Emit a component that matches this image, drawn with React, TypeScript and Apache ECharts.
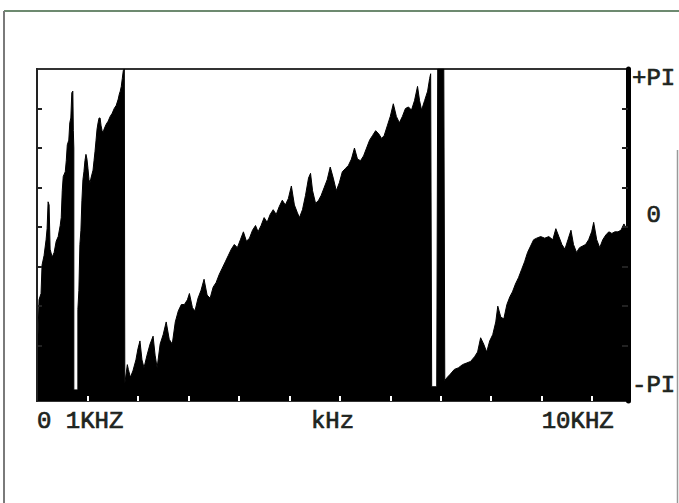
import React, { useEffect, useRef } from "react";
import * as echarts from "echarts";

// Frequency axis (kHz) and phase axis (units of PI)
const xTickKHz = [1, 2, 3, 4, 5, 6, 7, 8, 9, 10, 11];
const xLabelKHz = [0, 10];
const xLabelText = ["0 1KHZ", "10KHZ"];
const xName = "kHz";
const yTickPi = [-0.75, -0.5, -0.25, 0, 0.25, 0.5, 0.75];
const yLabelPi = [1, 0, -1];
const yLabelText = ["+PI", "\u00a00", "-PI"];

// wrapped phase response, [kHz, phase / PI]
const segA: [number, number][] = [
  [0, -0.69], [0.02, -0.68], [0.04, -0.46], [0.08, -0.42], [0.1, -0.24], [0.14, -0.18],
  [0.18, -0.08], [0.2, -0.01], [0.22, 0.16], [0.24, 0.14], [0.26, -0.14], [0.3, -0.19],
  [0.34, -0.16], [0.38, -0.09], [0.42, -0.06], [0.46, 0.01], [0.48, 0.06], [0.5, 0.23],
  [0.52, 0.32], [0.56, 0.35], [0.58, 0.42], [0.6, 0.52], [0.63, 0.55], [0.65, 0.66],
  [0.67, 0.69], [0.69, 0.85], [0.71, 0.86], [0.72, 0.61], [0.73, 0.5], [0.73, -1.03], [0.81, -1.03],
];
const segB: [number, number][] = [
  [0.81, -0.52], [0.83, -0.4], [0.85, -0.11], [0.87, -0.02], [0.89, 0.17], [0.91, 0.3],
  [0.93, 0.35], [0.95, 0.42], [0.97, 0.46], [0.99, 0.43], [1.01, 0.37], [1.03, 0.3],
  [1.05, 0.28], [1.07, 0.31], [1.11, 0.36], [1.13, 0.42], [1.15, 0.48], [1.17, 0.55],
  [1.19, 0.62], [1.21, 0.66], [1.23, 0.69], [1.25, 0.69], [1.27, 0.64], [1.29, 0.61],
  [1.31, 0.6], [1.33, 0.62], [1.37, 0.65], [1.41, 0.67], [1.45, 0.7], [1.49, 0.72],
  [1.53, 0.75], [1.57, 0.77], [1.61, 0.81], [1.63, 0.84], [1.65, 0.86], [1.67, 0.89],
  [1.69, 0.94], [1.71, 0.99], [1.73, 1.0], [1.74, -0.99],
];
const segC: [number, number][] = [
  [1.75, -0.99], [1.79, -0.87], [1.81, -0.9], [1.85, -0.95], [1.9, -0.91], [1.96, -0.84],
  [2.0, -0.77], [2.04, -0.72], [2.08, -0.84], [2.12, -0.89], [2.18, -0.81], [2.24, -0.74],
  [2.3, -0.69], [2.34, -0.81], [2.38, -0.89], [2.44, -0.74], [2.5, -0.68], [2.56, -0.6],
  [2.62, -0.71], [2.68, -0.74], [2.74, -0.6], [2.8, -0.53], [2.86, -0.49], [2.92, -0.49],
  [2.98, -0.46], [3.02, -0.42], [3.08, -0.51], [3.13, -0.53], [3.19, -0.45], [3.25, -0.4],
  [3.31, -0.33], [3.37, -0.43], [3.43, -0.45], [3.49, -0.38], [3.55, -0.35], [3.61, -0.3],
  [3.67, -0.26], [3.73, -0.22], [3.79, -0.18], [3.85, -0.14], [3.91, -0.11], [3.97, -0.13],
  [4.03, -0.08], [4.09, -0.03], [4.15, -0.09], [4.21, -0.07], [4.27, -0.02], [4.33, 0.01],
  [4.38, -0.03], [4.44, 0.01], [4.5, 0.06], [4.56, 0.03], [4.62, 0.08], [4.68, 0.11],
  [4.74, 0.08], [4.8, 0.13], [4.86, 0.17], [4.92, 0.14], [4.98, 0.18], [5.04, 0.26],
  [5.1, 0.14], [5.16, 0.09], [5.2, 0.06], [5.26, 0.11], [5.32, 0.2], [5.38, 0.31],
  [5.42, 0.34], [5.46, 0.23], [5.52, 0.15], [5.58, 0.17], [5.63, 0.2], [5.69, 0.25],
  [5.75, 0.3], [5.81, 0.38], [5.87, 0.31], [5.93, 0.23], [5.99, 0.28], [6.05, 0.35],
  [6.11, 0.37], [6.17, 0.39], [6.23, 0.43], [6.29, 0.5], [6.35, 0.43], [6.41, 0.42],
  [6.47, 0.45], [6.53, 0.5], [6.59, 0.55], [6.65, 0.58], [6.71, 0.61], [6.77, 0.59],
  [6.83, 0.56], [6.88, 0.58], [6.94, 0.64], [7.0, 0.7], [7.06, 0.78], [7.12, 0.7],
  [7.18, 0.66], [7.24, 0.7], [7.3, 0.75], [7.36, 0.76], [7.42, 0.74], [7.48, 0.8],
  [7.54, 0.89], [7.58, 0.8], [7.62, 0.74], [7.68, 0.8], [7.74, 0.86], [7.78, 0.94],
  [7.8, 0.97], [7.82, -1.01], [7.92, -1.01], [7.94, 1.0], [8.06, 1.0], [8.08, -0.97],
];
const segD: [number, number][] = [
  [8.13, -0.95], [8.19, -0.93], [8.27, -0.9], [8.35, -0.89], [8.43, -0.87], [8.51, -0.86],
  [8.59, -0.85], [8.67, -0.82], [8.73, -0.79], [8.79, -0.7], [8.85, -0.74], [8.91, -0.79],
  [8.97, -0.72], [9.03, -0.68], [9.09, -0.6], [9.13, -0.5], [9.19, -0.57], [9.25, -0.58],
  [9.31, -0.49], [9.37, -0.44], [9.42, -0.41], [9.48, -0.36], [9.54, -0.32], [9.6, -0.27],
  [9.66, -0.22], [9.72, -0.16], [9.78, -0.12], [9.84, -0.08], [9.9, -0.07], [9.98, -0.06],
  [10.06, -0.07], [10.14, -0.06], [10.22, -0.08], [10.28, -0.01], [10.34, -0.06], [10.4, -0.11],
  [10.46, -0.14], [10.52, -0.08], [10.58, -0.02], [10.63, -0.11], [10.69, -0.16], [10.75, -0.13],
  [10.81, -0.12], [10.87, -0.11], [10.93, -0.08], [10.99, -0.03], [11.03, 0.03], [11.09, -0.08],
  [11.15, -0.13], [11.21, -0.08], [11.27, -0.05], [11.33, -0.03], [11.39, -0.04], [11.45, -0.03],
  [11.51, -0.03], [11.57, -0.02], [11.63, 0.02], [11.69, -0.02], [11.71, -0.02],
];

const FONT = "Liberation Mono";
const TXT = "#1e2420";

export default function App() {
  const ref = useRef<HTMLDivElement>(null);
  useEffect(() => {
    const chart = echarts.init(ref.current!, null, { renderer: "svg" });
    const data = [...segA, ...segB, ...segC, ...segD];
    const txt = {
      fontFamily: FONT,
      fontSize: 24,
      fontWeight: "normal" as const,
      color: TXT,
      textBorderColor: TXT,
      textBorderWidth: 0.7,
    };
    chart.setOption({
      animation: false,
      backgroundColor: "#fff",
      grid: { left: 37, right: 51, top: 69, bottom: 102, show: true, borderColor: "#333", borderWidth: 2 },
      xAxis: {
        type: "value",
        min: 0,
        max: 11.71,
        z: 10,
        axisLine: { show: false, onZero: false },
        splitLine: { show: false },
        axisTick: { show: true, inside: true, length: 5, customValues: xTickKHz, lineStyle: { color: "#fff", width: 2 } },
        axisLabel: {
          ...txt,
          customValues: xLabelKHz,
          align: "left",
          margin: 8,
          formatter: (v: number) => xLabelText[xLabelKHz.indexOf(v)] ?? "",
        },
        name: xName,
        nameLocation: "middle",
        nameGap: 8,
        nameMoveOverlap: false,
        nameTextStyle: { ...txt, verticalAlign: "top" },
      },
      yAxis: [
        {
          type: "value",
          min: -1.1,
          max: 1,
          position: "left",
          z: 10,
          splitLine: { show: false },
          axisLine: { show: true, onZero: false, lineStyle: { color: "#222", width: 2 } },
          axisTick: { show: true, inside: true, length: 5, customValues: yTickPi, lineStyle: { color: "#222", width: 2 } },
          axisLabel: { show: false },
        },
        {
          type: "value",
          min: -1.1,
          max: 1,
          position: "right",
          z: 10,
          splitLine: { show: false },
          axisLine: { show: true, onZero: false, lineStyle: { color: "#000", width: 5 } },
          axisTick: { show: true, inside: true, length: 6, customValues: yTickPi, lineStyle: { color: "#222", width: 2 } },
          axisLabel: {
            ...txt,
            customValues: yLabelPi,
            margin: 4,
            formatter: (v: number) => {
              const t = yLabelText[yLabelPi.indexOf(v)] ?? "";
              if (v === 1) return "{t|" + t + "}";
              if (v === 0) return "{m|" + t + "}";
              return "{b|" + t + "}";
            },
            rich: {
              t: { ...txt, padding: [18, 0, 0, 0] },
              m: { ...txt, padding: [0, 0, 24, 0] },
              b: { ...txt },
            },
          },
        },
      ],
      graphic: [
        { type: "line", shape: { x1: 4, y1: 11, x2: 679, y2: 11 }, style: { stroke: "#6d8a70", lineWidth: 2 } },
        { type: "line", shape: { x1: 4, y1: 11, x2: 4, y2: 503 }, style: { stroke: "#7a7a7a", lineWidth: 2 } },
        { type: "line", shape: { x1: 677.5, y1: 150, x2: 677.5, y2: 503 }, style: { stroke: "#999", lineWidth: 1.5 } },
      ],
      series: [
        {
          type: "line",
          data,
          yAxisIndex: 0,
          symbol: "none",
          silent: true,
          lineStyle: { color: "#000", width: 1 },
          areaStyle: { color: "#000", opacity: 1, origin: "start" },
        },
      ],
    });
    return () => chart.dispose();
  }, []);
  return (
    <div
      ref={ref}
      style={{ position: "fixed", left: 0, top: 0, width: 679, height: 503, background: "#fff" }}
    />
  );
}
